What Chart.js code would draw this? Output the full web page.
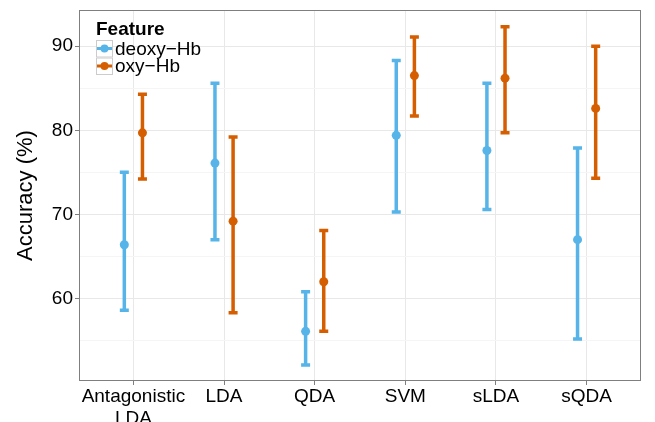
<!DOCTYPE html>
<html>
<head>
<meta charset="utf-8">
<script src="https://cdn.jsdelivr.net/npm/chart.js@4"></script>
<style>
  body { margin: 0; background: #fff; }
  canvas { display: block; }
</style>
</head>
<body>
<canvas id="chart" width="655" height="422"></canvas>
<script>
const categories = ['Antagonistic LDA', 'LDA', 'QDA', 'SVM', 'sLDA', 'sQDA'];
const deoxyMean = [66.4, 76.1, 56.1, 79.4, 77.6, 67.0];
const deoxyLow  = [58.6, 67.0, 52.1, 70.3, 70.6, 55.2];
const deoxyHigh = [75.0, 85.6, 60.8, 88.3, 85.6, 77.9];
const oxyMean = [79.7, 69.2, 62.0, 86.5, 86.2, 82.6];
const oxyLow  = [74.2, 58.3, 56.1, 81.7, 79.7, 74.3];
const oxyHigh = [84.3, 79.2, 68.1, 91.1, 92.3, 90.0];
const yTicks = [55, 60, 65, 70, 75, 80, 85, 90];

const BLUE = '#56B4E9';
const ORANGE = '#D55E00';
const FONT = '"Liberation Sans", Arial, Helvetica, sans-serif';
const dodge = 0.1;

function pts(means, off) {
    return means.map((m, i) => ({x: i + 1 + off, y: m}));
}

// error bars drawn under the points
const errorBars = {
    id: 'errorBars',
    beforeDatasetsDraw(chart) {
        const ctx = chart.ctx;
        const xs = chart.scales.x, ys = chart.scales.y;
        const sets = [
            {lo: deoxyLow, hi: deoxyHigh, off: -dodge, col: BLUE},
            {lo: oxyLow, hi: oxyHigh, off: dodge, col: ORANGE}
        ];
        ctx.save();
        ctx.lineWidth = 3.5;
        ctx.lineCap = 'butt';
        sets.forEach(s => {
            ctx.strokeStyle = s.col;
            for (let i = 0; i < categories.length; i++) {
                const x = xs.getPixelForValue(i + 1 + s.off);
                const y1 = ys.getPixelForValue(s.lo[i]);
                const y2 = ys.getPixelForValue(s.hi[i]);
                ctx.beginPath();
                ctx.moveTo(x, y1); ctx.lineTo(x, y2);
                ctx.moveTo(x - 4.5, y1); ctx.lineTo(x + 4.5, y1);
                ctx.moveTo(x - 4.5, y2); ctx.lineTo(x + 4.5, y2);
                ctx.stroke();
            }
        });
        ctx.restore();
    },
    afterDraw(chart) {
        const ctx = chart.ctx;
        const a = chart.chartArea;
        ctx.save();
        // panel border
        ctx.strokeStyle = '#7f7f7f';
        ctx.lineWidth = 1;
        ctx.strokeRect(a.left + 0.5, a.top + 0.5, a.right - a.left - 1, a.bottom - a.top - 1);
        // legend
        ctx.fillStyle = '#000';
        ctx.font = 'bold 19px ' + FONT;
        ctx.textBaseline = 'alphabetic';
        ctx.fillText('Feature', 96, 35);
        const items = [['deoxy\u2212Hb', BLUE], ['oxy\u2212Hb', ORANGE]];
        items.forEach((it, k) => {
            const top = 40 + k * 17.5;
            const cy = top + 8.5;
            ctx.fillStyle = '#fff';
            ctx.fillRect(96, top, 17, 17.5);
            ctx.strokeStyle = '#cccccc';
            ctx.lineWidth = 1;
            ctx.strokeRect(96.5, top + 0.5, 16, 16.5);
            ctx.strokeStyle = it[1];
            ctx.lineWidth = 3;
            ctx.beginPath();
            ctx.moveTo(97, cy); ctx.lineTo(112, cy);
            ctx.stroke();
            ctx.fillStyle = it[1];
            ctx.beginPath();
            ctx.arc(104.5, cy, 4, 0, Math.PI * 2);
            ctx.fill();
            ctx.fillStyle = '#000';
            ctx.font = '19px ' + FONT;
            ctx.textBaseline = 'middle';
            ctx.fillText(it[0], 115, cy + 1);
        });
        ctx.restore();
    }
};

new Chart(document.getElementById('chart'), {
    type: 'scatter',
    data: {
        datasets: [{
            label: 'deoxy-Hb',
            data: pts(deoxyMean, -dodge),
            backgroundColor: BLUE,
            borderColor: BLUE,
            pointRadius: 4.5,
            borderWidth: 0
        }, {
            label: 'oxy-Hb',
            data: pts(oxyMean, dodge),
            backgroundColor: ORANGE,
            borderColor: ORANGE,
            pointRadius: 4.5,
            borderWidth: 0
        }]
    },
    options: {
        responsive: false,
        animation: false,
        layout: {padding: {top: 10, right: 14, left: 0, bottom: 0}},
        plugins: {legend: {display: false}, tooltip: {enabled: false}},
        scales: {
            x: {
                type: 'linear',
                min: 0.4,
                max: 6.6,
                afterBuildTicks: axis => { axis.ticks = categories.map((c, i) => ({value: i + 1})); },
                afterFit: axis => { axis.height = 41; axis.paddingLeft = 0; axis.paddingRight = 0; },
                grid: {color: '#e8e8e8', lineWidth: 1, tickColor: '#7f7f7f', tickLength: 4},
                border: {display: false},
                ticks: {
                    autoSkip: false,
                    maxRotation: 0,
                    padding: 1,
                    color: '#000',
                    font: {family: FONT, size: 19, lineHeight: 1.15},
                    callback: (v, i) => {
                        const c = categories[i];
                        return c.indexOf(' ') > 0 ? c.split(' ') : c;
                    }
                }
            },
            y: {
                min: 50.2,
                max: 94.3,
                afterBuildTicks: axis => { axis.ticks = yTicks.map(v => ({value: v})); },
                afterFit: axis => { axis.width = 79; axis.paddingTop = 0; axis.paddingBottom = 0; },
                grid: {
                    color: c => c.tick && c.tick.value % 10 === 0 ? '#e8e8e8' : '#f5f5f5',
                    tickColor: c => c.tick && c.tick.value % 10 === 0 ? '#7f7f7f' : 'rgba(0,0,0,0)',
                    tickLength: 4
                },
                border: {display: false},
                title: {
                    display: true,
                    text: 'Accuracy (%)',
                    color: '#000',
                    font: {family: FONT, size: 22},
                    padding: {top: 13, bottom: 0}
                },
                ticks: {
                    padding: 2,
                    color: '#000',
                    font: {family: FONT, size: 19},
                    callback: v => v % 10 === 0 ? v : ''
                }
            }
        }
    },
    plugins: [errorBars]
});
</script>
</body>
</html>
